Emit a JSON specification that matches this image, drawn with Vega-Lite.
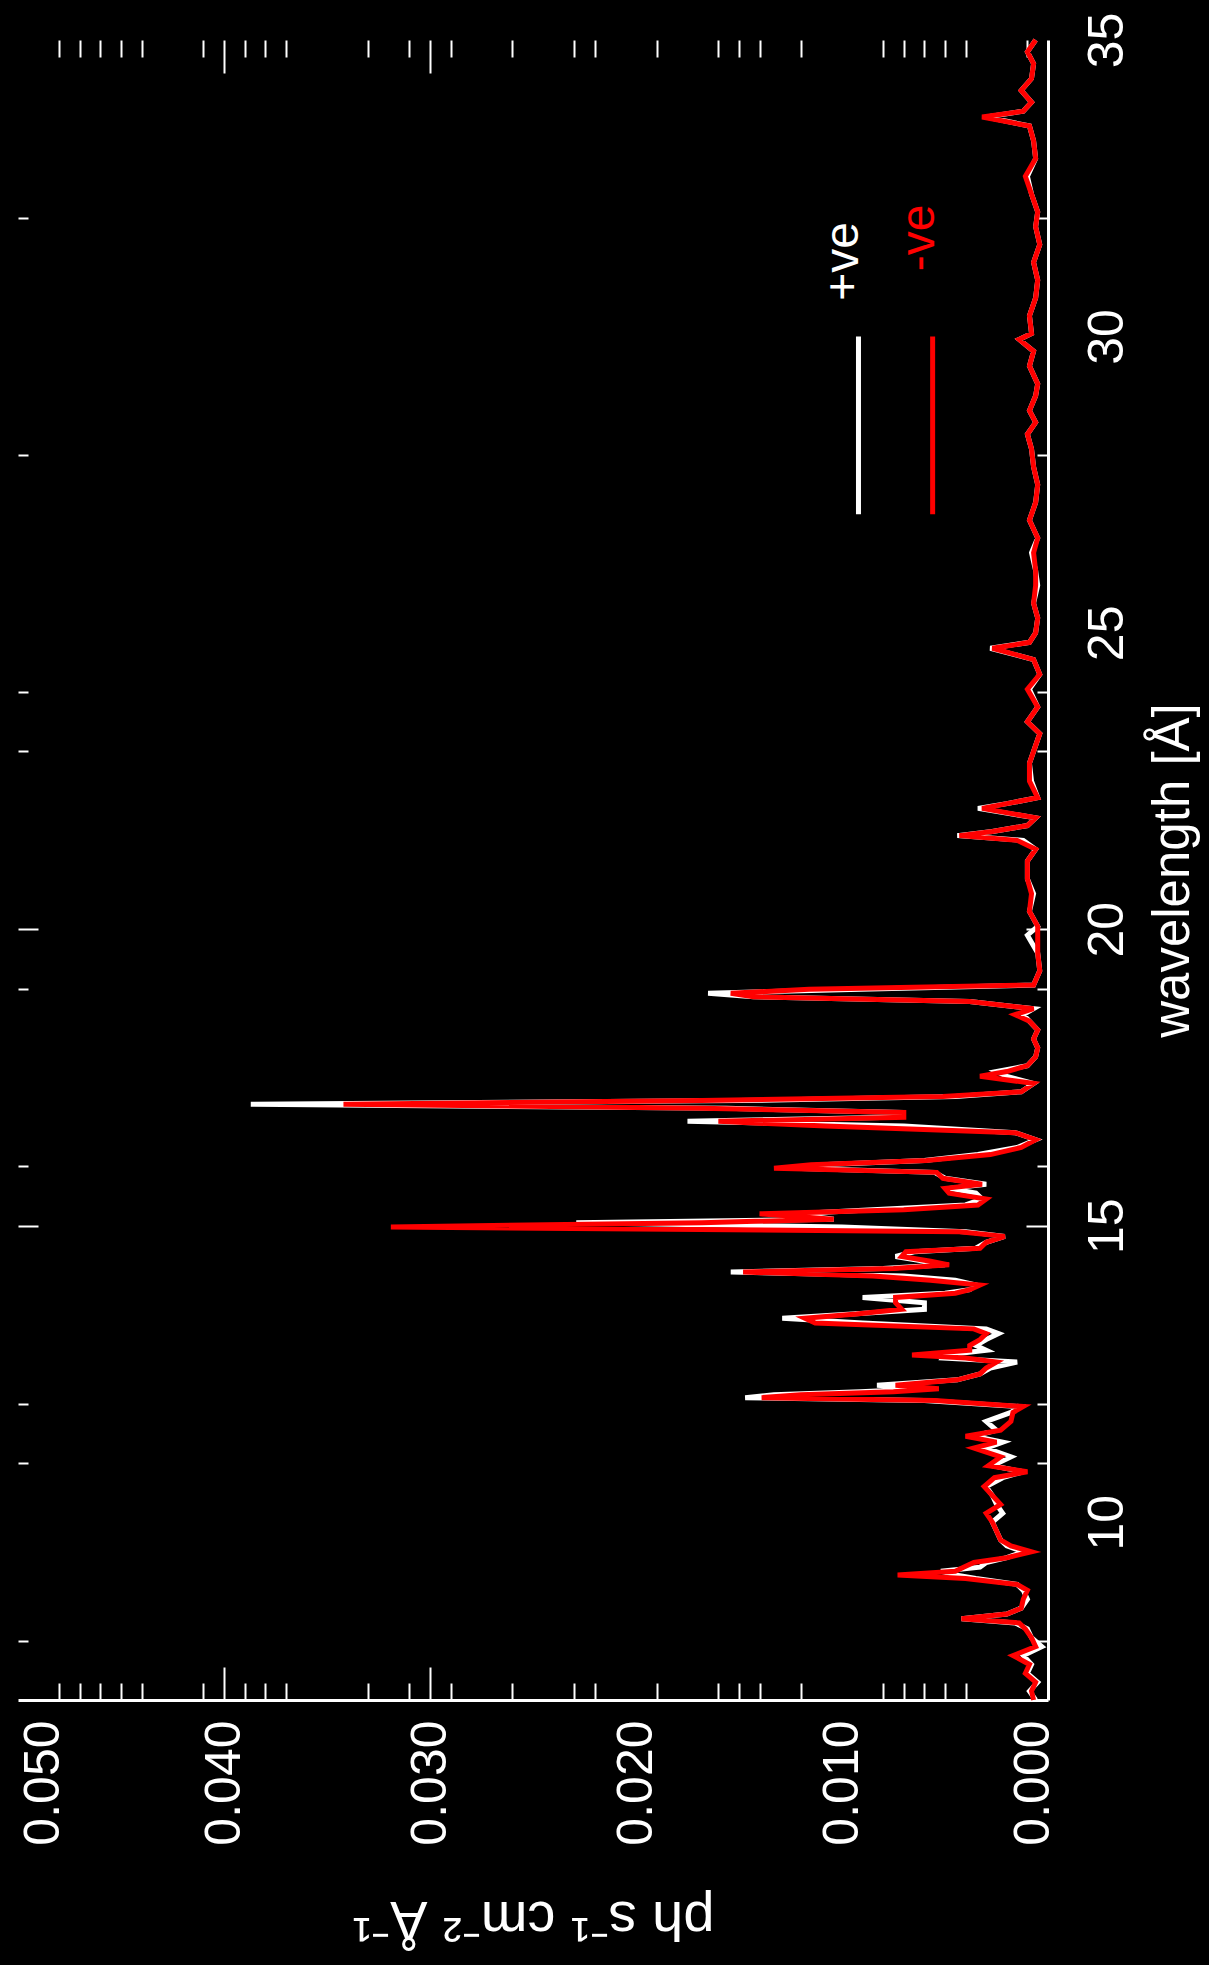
{
  "$schema": "https://vega.github.io/schema/vega-lite/v6.json",
  "autosize": "none",
  "width": 1030,
  "height": 1660,
  "padding": {"left": 18, "top": 40, "right": 161, "bottom": 265},
  "background": "black",
  "config": {
    "view": {"stroke": null},
    "axis": {
      "labelFont": "Liberation Sans",
      "titleFont": "Liberation Sans",
      "labelColor": "white",
      "titleColor": "white",
      "domainColor": "white",
      "tickColor": "white",
      "grid": false,
      "titleFontWeight": "normal",
      "labelFlush": false,
      "labelOverlap": false
    }
  },
  "data": {
    "values": [
      {"w": 7.00, "p": 0.0006, "m": 0.0007},
      {"w": 7.15, "p": 0.0009, "m": 0.0008},
      {"w": 7.30, "p": 0.0005, "m": 0.0006},
      {"w": 7.45, "p": 0.0010, "m": 0.0011},
      {"w": 7.60, "p": 0.0008, "m": 0.0009},
      {"w": 7.75, "p": 0.0012, "m": 0.0017},
      {"w": 7.90, "p": 0.0003, "m": 0.0006},
      {"w": 8.05, "p": 0.0008, "m": 0.0008},
      {"w": 8.20, "p": 0.0010, "m": 0.0011},
      {"w": 8.30, "p": 0.0016, "m": 0.0014},
      {"w": 8.37, "p": 0.0042, "m": 0.0042},
      {"w": 8.45, "p": 0.0020, "m": 0.0020},
      {"w": 8.55, "p": 0.0013, "m": 0.0013},
      {"w": 8.70, "p": 0.0010, "m": 0.0012},
      {"w": 8.85, "p": 0.0012, "m": 0.0010},
      {"w": 8.95, "p": 0.0015, "m": 0.0015},
      {"w": 9.05, "p": 0.0035, "m": 0.0040},
      {"w": 9.11, "p": 0.0045, "m": 0.0073},
      {"w": 9.17, "p": 0.0052, "m": 0.0045},
      {"w": 9.24, "p": 0.0033, "m": 0.0041},
      {"w": 9.32, "p": 0.0030, "m": 0.0036},
      {"w": 9.40, "p": 0.0020, "m": 0.0020},
      {"w": 9.50, "p": 0.0012, "m": 0.0008},
      {"w": 9.60, "p": 0.0020, "m": 0.0018},
      {"w": 9.70, "p": 0.0023, "m": 0.0023},
      {"w": 9.85, "p": 0.0025, "m": 0.0025},
      {"w": 10.00, "p": 0.0027, "m": 0.0027},
      {"w": 10.15, "p": 0.0022, "m": 0.0030},
      {"w": 10.30, "p": 0.0025, "m": 0.0023},
      {"w": 10.45, "p": 0.0027, "m": 0.0027},
      {"w": 10.60, "p": 0.0030, "m": 0.0031},
      {"w": 10.75, "p": 0.0022, "m": 0.0026},
      {"w": 10.85, "p": 0.0012, "m": 0.0010},
      {"w": 10.95, "p": 0.0027, "m": 0.0029},
      {"w": 11.10, "p": 0.0018, "m": 0.0023},
      {"w": 11.25, "p": 0.0030, "m": 0.0036},
      {"w": 11.35, "p": 0.0022, "m": 0.0025},
      {"w": 11.45, "p": 0.0036, "m": 0.0040},
      {"w": 11.55, "p": 0.0025, "m": 0.0023},
      {"w": 11.70, "p": 0.0030, "m": 0.0018},
      {"w": 11.85, "p": 0.0018, "m": 0.0017},
      {"w": 11.95, "p": 0.0014, "m": 0.0012},
      {"w": 12.05, "p": 0.0060, "m": 0.0055},
      {"w": 12.10, "p": 0.0147, "m": 0.0139},
      {"w": 12.15, "p": 0.0133, "m": 0.0120},
      {"w": 12.20, "p": 0.0091, "m": 0.0075},
      {"w": 12.25, "p": 0.0060, "m": 0.0053},
      {"w": 12.31, "p": 0.0083, "m": 0.0074},
      {"w": 12.40, "p": 0.0044, "m": 0.0044},
      {"w": 12.50, "p": 0.0033, "m": 0.0033},
      {"w": 12.60, "p": 0.0028, "m": 0.0030},
      {"w": 12.70, "p": 0.0015, "m": 0.0025},
      {"w": 12.77, "p": 0.0051, "m": 0.0040},
      {"w": 12.82, "p": 0.0050, "m": 0.0066},
      {"w": 12.90, "p": 0.0030, "m": 0.0038},
      {"w": 12.98, "p": 0.0035, "m": 0.0038},
      {"w": 13.08, "p": 0.0030, "m": 0.0033},
      {"w": 13.18, "p": 0.0024, "m": 0.0030},
      {"w": 13.26, "p": 0.0030, "m": 0.0036},
      {"w": 13.36, "p": 0.0090, "m": 0.0113},
      {"w": 13.44, "p": 0.0129, "m": 0.0118},
      {"w": 13.51, "p": 0.0095, "m": 0.0093},
      {"w": 13.59, "p": 0.0060, "m": 0.0071},
      {"w": 13.70, "p": 0.0060, "m": 0.0074},
      {"w": 13.79, "p": 0.0090, "m": 0.0074},
      {"w": 13.86, "p": 0.0050, "m": 0.0045},
      {"w": 13.92, "p": 0.0038, "m": 0.0038},
      {"w": 14.00, "p": 0.0035, "m": 0.0033},
      {"w": 14.08, "p": 0.0045, "m": 0.0057},
      {"w": 14.15, "p": 0.0070, "m": 0.0085},
      {"w": 14.22, "p": 0.0154, "m": 0.0148},
      {"w": 14.28, "p": 0.0080, "m": 0.0075},
      {"w": 14.34, "p": 0.0050, "m": 0.0048},
      {"w": 14.40, "p": 0.0060, "m": 0.0057},
      {"w": 14.48, "p": 0.0074, "m": 0.0071},
      {"w": 14.56, "p": 0.0065, "m": 0.0069},
      {"w": 14.62, "p": 0.0035, "m": 0.0033},
      {"w": 14.72, "p": 0.0030, "m": 0.0030},
      {"w": 14.82, "p": 0.0021, "m": 0.0021},
      {"w": 14.90, "p": 0.0040, "m": 0.0043},
      {"w": 14.98, "p": 0.0100, "m": 0.0319},
      {"w": 15.05, "p": 0.0229, "m": 0.0168},
      {"w": 15.11, "p": 0.0104, "m": 0.0104},
      {"w": 15.20, "p": 0.0123, "m": 0.0140},
      {"w": 15.27, "p": 0.0085, "m": 0.0070},
      {"w": 15.35, "p": 0.0040, "m": 0.0034},
      {"w": 15.45, "p": 0.0032, "m": 0.0030},
      {"w": 15.55, "p": 0.0035, "m": 0.0048},
      {"w": 15.63, "p": 0.0048, "m": 0.0050},
      {"w": 15.70, "p": 0.0030, "m": 0.0032},
      {"w": 15.80, "p": 0.0050, "m": 0.0051},
      {"w": 15.90, "p": 0.0055, "m": 0.0054},
      {"w": 15.97, "p": 0.0124, "m": 0.0133},
      {"w": 16.03, "p": 0.0110, "m": 0.0115},
      {"w": 16.10, "p": 0.0060, "m": 0.0059},
      {"w": 16.20, "p": 0.0034, "m": 0.0028},
      {"w": 16.32, "p": 0.0015, "m": 0.0013},
      {"w": 16.45, "p": 0.0006, "m": 0.0006},
      {"w": 16.57, "p": 0.0016, "m": 0.0016},
      {"w": 16.68, "p": 0.0070, "m": 0.0108},
      {"w": 16.76, "p": 0.0175, "m": 0.0160},
      {"w": 16.83, "p": 0.0075, "m": 0.0070},
      {"w": 16.91, "p": 0.0070, "m": 0.0070},
      {"w": 16.98, "p": 0.0156, "m": 0.0168},
      {"w": 17.05, "p": 0.0387, "m": 0.0342},
      {"w": 17.11, "p": 0.0150, "m": 0.0168},
      {"w": 17.18, "p": 0.0045, "m": 0.0051},
      {"w": 17.26, "p": 0.0013, "m": 0.0013},
      {"w": 17.40, "p": 0.0007, "m": 0.0007},
      {"w": 17.52, "p": 0.0020, "m": 0.0033},
      {"w": 17.60, "p": 0.0025, "m": 0.0020},
      {"w": 17.70, "p": 0.0010, "m": 0.0010},
      {"w": 17.85, "p": 0.0006, "m": 0.0006},
      {"w": 18.00, "p": 0.0005, "m": 0.0005},
      {"w": 18.15, "p": 0.0007, "m": 0.0007},
      {"w": 18.30, "p": 0.0005, "m": 0.0005},
      {"w": 18.45, "p": 0.0009, "m": 0.0009},
      {"w": 18.56, "p": 0.0012, "m": 0.0016},
      {"w": 18.66, "p": 0.0007, "m": 0.0007},
      {"w": 18.78, "p": 0.0038, "m": 0.0038},
      {"w": 18.86, "p": 0.0143, "m": 0.0143},
      {"w": 18.92, "p": 0.0165, "m": 0.0154},
      {"w": 18.99, "p": 0.0091, "m": 0.0116},
      {"w": 19.06, "p": 0.0007, "m": 0.0007},
      {"w": 19.30, "p": 0.0004, "m": 0.0004},
      {"w": 19.60, "p": 0.0005, "m": 0.0005},
      {"w": 19.90, "p": 0.0010, "m": 0.0005},
      {"w": 20.05, "p": 0.0005, "m": 0.0005},
      {"w": 20.30, "p": 0.0009, "m": 0.0009},
      {"w": 20.60, "p": 0.0007, "m": 0.0008},
      {"w": 20.85, "p": 0.0010, "m": 0.0010},
      {"w": 21.15, "p": 0.0010, "m": 0.0010},
      {"w": 21.35, "p": 0.0006, "m": 0.0006},
      {"w": 21.50, "p": 0.0012, "m": 0.0015},
      {"w": 21.58, "p": 0.0044, "m": 0.0043},
      {"w": 21.65, "p": 0.0027, "m": 0.0027},
      {"w": 21.75, "p": 0.0010, "m": 0.0010},
      {"w": 21.88, "p": 0.0006, "m": 0.0006},
      {"w": 22.04, "p": 0.0034, "m": 0.0032},
      {"w": 22.12, "p": 0.0020, "m": 0.0020},
      {"w": 22.22, "p": 0.0005, "m": 0.0005},
      {"w": 22.50, "p": 0.0008, "m": 0.0009},
      {"w": 22.80, "p": 0.0009, "m": 0.0009},
      {"w": 23.00, "p": 0.0007, "m": 0.0007},
      {"w": 23.30, "p": 0.0004, "m": 0.0004},
      {"w": 23.50, "p": 0.0010, "m": 0.0010},
      {"w": 23.75, "p": 0.0005, "m": 0.0005},
      {"w": 24.05, "p": 0.0009, "m": 0.0010},
      {"w": 24.30, "p": 0.0004, "m": 0.0004},
      {"w": 24.55, "p": 0.0007, "m": 0.0007},
      {"w": 24.74, "p": 0.0028, "m": 0.0027},
      {"w": 24.84, "p": 0.0009, "m": 0.0009},
      {"w": 25.00, "p": 0.0006, "m": 0.0006},
      {"w": 25.25, "p": 0.0005, "m": 0.0005},
      {"w": 25.50, "p": 0.0007, "m": 0.0007},
      {"w": 25.80, "p": 0.0005, "m": 0.0006},
      {"w": 26.05, "p": 0.0006, "m": 0.0006},
      {"w": 26.35, "p": 0.0008, "m": 0.0007},
      {"w": 26.60, "p": 0.0005, "m": 0.0005},
      {"w": 26.90, "p": 0.0009, "m": 0.0009},
      {"w": 27.20, "p": 0.0006, "m": 0.0006},
      {"w": 27.50, "p": 0.0005, "m": 0.0005},
      {"w": 27.80, "p": 0.0007, "m": 0.0007},
      {"w": 28.10, "p": 0.0008, "m": 0.0008},
      {"w": 28.35, "p": 0.0010, "m": 0.0010},
      {"w": 28.55, "p": 0.0006, "m": 0.0006},
      {"w": 28.75, "p": 0.0009, "m": 0.0009},
      {"w": 29.00, "p": 0.0006, "m": 0.0006},
      {"w": 29.20, "p": 0.0005, "m": 0.0005},
      {"w": 29.50, "p": 0.0009, "m": 0.0009},
      {"w": 29.75, "p": 0.0007, "m": 0.0007},
      {"w": 29.95, "p": 0.0014, "m": 0.0014},
      {"w": 30.05, "p": 0.0008, "m": 0.0008},
      {"w": 30.35, "p": 0.0009, "m": 0.0009},
      {"w": 30.65, "p": 0.0006, "m": 0.0006},
      {"w": 30.95, "p": 0.0005, "m": 0.0005},
      {"w": 31.25, "p": 0.0007, "m": 0.0007},
      {"w": 31.55, "p": 0.0004, "m": 0.0004},
      {"w": 31.85, "p": 0.0006, "m": 0.0006},
      {"w": 32.10, "p": 0.0005, "m": 0.0005},
      {"w": 32.40, "p": 0.0008, "m": 0.0008},
      {"w": 32.70, "p": 0.0010, "m": 0.0011},
      {"w": 33.00, "p": 0.0006, "m": 0.0006},
      {"w": 33.30, "p": 0.0007, "m": 0.0007},
      {"w": 33.55, "p": 0.0009, "m": 0.0009},
      {"w": 33.70, "p": 0.0030, "m": 0.0032},
      {"w": 33.80, "p": 0.0012, "m": 0.0012},
      {"w": 33.95, "p": 0.0008, "m": 0.0008},
      {"w": 34.15, "p": 0.0013, "m": 0.0013},
      {"w": 34.35, "p": 0.0008, "m": 0.0008},
      {"w": 34.60, "p": 0.0007, "m": 0.0007},
      {"w": 34.80, "p": 0.0010, "m": 0.0010},
      {"w": 35.00, "p": 0.0006, "m": 0.0006}
    ]
  },
  "resolve": {"axis": {"x": "independent", "y": "independent"}},
  "layer": [
    {
      "mark": {"type": "line", "color": "#ffffff", "strokeWidth": 5, "interpolate": "linear"},
      "encoding": {
        "x": {
          "field": "p", "type": "quantitative",
          "scale": {"domain": [0, 0.05], "reverse": true, "nice": false, "zero": false},
          "axis": {
            "orient": "bottom", "values": [0, 0.01, 0.02, 0.03, 0.04, 0.05], "format": ".3f",
            "ticks": false, "tickSize": 0, "domain": true, "domainWidth": 3,
            "labelAngle": 270, "labelAlign": "right",
            "labelBaseline": {"condition": [{"test": "datum.value == 0.05", "value": "top"}, {"test": "datum.value == 0", "value": "alphabetic"}], "value": "middle"},
            "labelFontSize": 50, "labelPadding": 20,
            "title": "ph s⁻¹ cm⁻² Å⁻¹", "titleAngle": 180, "titleBaseline": "bottom",
            "titleFontSize": 56, "titlePadding": 44
          }
        },
        "y": {
          "field": "w", "type": "quantitative",
          "scale": {"domain": [7, 35], "nice": false, "zero": false},
          "axis": {
            "orient": "right", "values": [10, 15, 20, 25, 30, 35], "format": "d",
            "ticks": false, "tickSize": 0, "domain": true, "domainWidth": 3,
            "labelAngle": 270, "labelAlign": "center", "labelBaseline": "top",
            "labelFontSize": 50, "labelPadding": 34,
            "title": "wavelength [Å]", "titleAngle": 270, "titleBaseline": "top",
            "titleFontSize": 51, "titlePadding": 16
          }
        },
        "order": {"field": "w", "type": "quantitative"}
      }
    },
    {
      "mark": {"type": "line", "color": "#ff0000", "strokeWidth": 5, "interpolate": "linear"},
      "encoding": {
        "x": {
          "field": "m", "type": "quantitative",
          "axis": {
            "orient": "bottom", "labels": false, "domain": false, "title": null,
            "values": [0.004, 0.005, 0.006, 0.007, 0.008, 0.012, 0.014, 0.015, 0.016, 0.019, 0.022, 0.023, 0.026, 0.029, 0.03, 0.031, 0.033, 0.037, 0.038, 0.039, 0.04, 0.041, 0.044, 0.045, 0.046, 0.047, 0.048],
            "tickWidth": 2,
            "tickSize": {"condition": {"test": "datum.value == 0.03 || datum.value == 0.04", "value": -33}, "value": -17}
          }
        },
        "y": {
          "field": "w", "type": "quantitative",
          "axis": {
            "orient": "right", "labels": false, "domain": false, "title": null,
            "values": [8, 11, 12, 15, 16, 19, 20, 23, 24, 28, 32],
            "tickWidth": 2,
            "tickSize": {"condition": {"test": "datum.value == 15 || datum.value == 20", "value": -22}, "value": -11}
          }
        },
        "order": {"field": "w", "type": "quantitative"}
      }
    },
    {
      "data": {"values": [{}]},
      "mark": {"type": "rule", "color": "#ffffff", "strokeWidth": 5},
      "encoding": {
        "x": {
          "datum": 0.0092, "type": "quantitative",
          "axis": {
            "orient": "top", "labels": false, "domain": false, "title": null,
            "values": [0.001, 0.004, 0.005, 0.006, 0.007, 0.008, 0.012, 0.014, 0.015, 0.016, 0.019, 0.022, 0.023, 0.026, 0.029, 0.03, 0.031, 0.033, 0.037, 0.038, 0.039, 0.04, 0.041, 0.044, 0.045, 0.046, 0.047, 0.048],
            "tickWidth": 2,
            "tickSize": {"condition": {"test": "datum.value == 0.03 || datum.value == 0.04", "value": -33}, "value": -17}
          }
        },
        "y": {
          "datum": 27.0, "type": "quantitative",
          "axis": {
            "orient": "left", "labels": false, "domain": false, "title": null,
            "values": [8, 11, 12, 15, 16, 19, 20, 23, 24, 28, 32],
            "tickWidth": 2,
            "tickSize": {"condition": {"test": "datum.value == 15 || datum.value == 20", "value": -20}, "value": -10}
          }
        },
        "y2": {"datum": 30.0}
      }
    },
    {
      "data": {"values": [{}]},
      "mark": {"type": "rule", "color": "#ff0000", "strokeWidth": 5},
      "encoding": {
        "x": {"datum": 0.0056, "type": "quantitative", "axis": null},
        "y": {"datum": 27.0, "type": "quantitative", "axis": null},
        "y2": {"datum": 30.0}
      }
    },
    {
      "data": {"values": [{}]},
      "mark": {"type": "text", "text": "+ve", "color": "#ffffff", "angle": 270, "align": "left", "baseline": "middle", "font": "Liberation Sans", "fontSize": 48},
      "encoding": {
        "x": {"datum": 0.0099, "type": "quantitative", "axis": null},
        "y": {"datum": 30.6, "type": "quantitative", "axis": null}
      }
    },
    {
      "data": {"values": [{}]},
      "mark": {"type": "text", "text": "-ve", "color": "#ff0000", "angle": 270, "align": "left", "baseline": "middle", "font": "Liberation Sans", "fontSize": 48},
      "encoding": {
        "x": {"datum": 0.0062, "type": "quantitative", "axis": null},
        "y": {"datum": 31.1, "type": "quantitative", "axis": null}
      }
    }
  ]
}
